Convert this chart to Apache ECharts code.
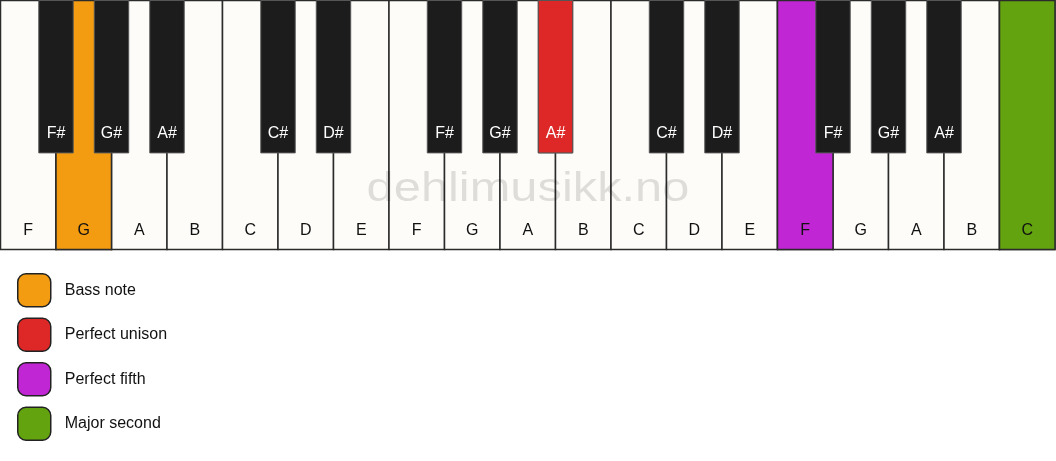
<!DOCTYPE html>
<html lang="en">
<head>
    <meta charset="UTF-8">
    <title>Piano keys</title>
    <script src="https://cdn.jsdelivr.net/npm/echarts@6/dist/echarts.min.js"></script>
    <style>
        body { margin: 0; padding: 0; overflow: hidden; background: #fff; }
        #main { width: 1056px; height: 461px; }
    </style>
</head>
<body>
<div id="main"></div>
<script>
    // white keys, left to right
    var whiteNotes = ['F', 'G', 'A', 'B', 'C', 'D', 'E', 'F', 'G', 'A', 'B', 'C', 'D', 'E', 'F', 'G', 'A', 'B', 'C'];
    // black keys: position = boundary between white keys
    var blackPos = [1, 2, 3, 5, 6, 8, 9, 10, 12, 13, 15, 16, 17];
    var blackNotes = ['F#', 'G#', 'A#', 'C#', 'D#', 'F#', 'G#', 'A#', 'C#', 'D#', 'F#', 'G#', 'A#'];

    // highlighted keys: legend name, kind, index, colour
    var markNames = ['Bass note', 'Perfect unison', 'Perfect fifth', 'Major second'];
    var markKinds = ['white', 'black', 'white', 'white'];
    var markIndex = [1, 10, 14, 18];
    var markColors = ['#f39c11', '#de2828', '#c026d3', '#62a30f'];

    var WHITE_H = 250, BLACK_H = 153, BLACK_W = 0.62;
    var FONT = '"Liberation Sans", Arial, sans-serif';

    var chart = echarts.init(document.getElementById('main'));

    // renderItem factories: labels come from the closure, geometry from the axes
    function whiteKeys(labels, fill) {
        return function (params, api) {
            var x0 = api.value(0);
            var p0 = api.coord([x0, 0]);
            var p1 = api.coord([x0 + 1, WHITE_H]);
            return {
                type: 'group',
                children: [{
                    type: 'rect',
                    shape: { x: p0[0], y: p0[1], width: p1[0] - p0[0], height: p1[1] - p0[1] },
                    style: { fill: fill, stroke: '#2b2b2b', lineWidth: 1.5 }
                }, {
                    type: 'text',
                    style: {
                        text: labels[params.dataIndex], x: (p0[0] + p1[0]) / 2, y: api.coord([0, 231])[1],
                        fill: '#111', font: '16px ' + FONT, align: 'center', verticalAlign: 'middle'
                    }
                }]
            };
        };
    }

    function blackKeys(labels, fill) {
        return function (params, api) {
            var c = api.value(0);
            var p0 = api.coord([c - BLACK_W / 2, 0]);
            var p1 = api.coord([c + BLACK_W / 2, BLACK_H]);
            return {
                type: 'group',
                children: [{
                    type: 'rect',
                    shape: { x: p0[0], y: p0[1], width: p1[0] - p0[0], height: p1[1] - p0[1] },
                    style: { fill: fill, stroke: '#555', lineWidth: 1 }
                }, {
                    type: 'text',
                    style: {
                        text: labels[params.dataIndex], x: (p0[0] + p1[0]) / 2, y: api.coord([0, 134])[1],
                        fill: '#fff', font: '16px ' + FONT, align: 'center', verticalAlign: 'middle'
                    }
                }]
            };
        };
    }

    var series = [{
        name: 'whites',
        type: 'custom',
        z: 1,
        renderItem: whiteKeys(whiteNotes, '#fdfcf9'),
        data: whiteNotes.map(function (n, i) { return [i]; })
    }, {
        name: 'blacks',
        type: 'custom',
        z: 3,
        renderItem: blackKeys(blackNotes, '#1c1c1c'),
        data: blackPos.map(function (p) { return [p]; })
    }];

    markNames.forEach(function (name, k) {
        var isWhite = markKinds[k] === 'white';
        var idx = markIndex[k];
        var label = isWhite ? whiteNotes[idx] : blackNotes[blackPos.indexOf(idx)];
        series.push({
            name: name,
            type: 'custom',
            z: isWhite ? 2 : 4,
            itemStyle: { color: markColors[k] },
            renderItem: isWhite ? whiteKeys([label], markColors[k]) : blackKeys([label], markColors[k]),
            data: [[idx]]
        });
    });

    var option = {
        animation: false,
        grid: { left: 0.5, top: 0.5, width: 1054.5, height: 249 },
        xAxis: { type: 'value', min: 0, max: 19, show: false },
        yAxis: { type: 'value', min: 0, max: WHITE_H, inverse: true, show: false },
        legend: {
            orient: 'vertical',
            left: 17,
            top: 273,
            padding: 0,
            icon: 'roundRect',
            itemWidth: 33,
            itemHeight: 33,
            itemGap: 10,
            selectedMode: false,
            itemStyle: { borderColor: '#222', borderWidth: 1.5 },
            textStyle: { fontFamily: FONT, fontSize: 16, color: '#111', padding: [0, 0, 0, 9] },
            data: markNames
        },
        graphic: [{
            type: 'text',
            z: 100,
            x: 528,
            y: 190,
            scaleX: 1.22,
            silent: true,
            style: {
                text: 'dehlimusikk.no',
                font: '40px ' + FONT,
                fill: 'rgba(0,0,0,0.12)',
                align: 'center',
                verticalAlign: 'middle'
            }
        }],
        series: series
    };
    chart.setOption(option);
</script>
</body>
</html>
